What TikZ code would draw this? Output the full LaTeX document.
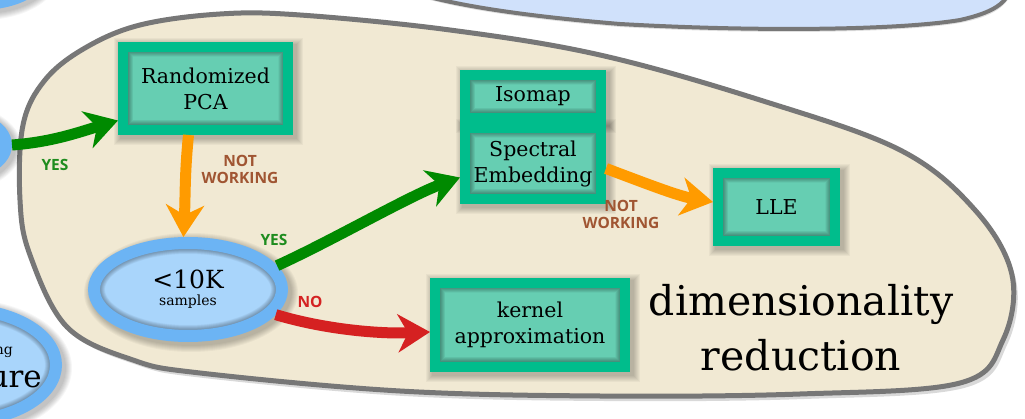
\documentclass[tikz,border=0pt]{standalone}
\usepackage{fontspec}
\setmainfont{DejaVu Serif}
\newfontfamily\labelfont{Open Sans}
\usetikzlibrary{arrows.meta,shapes.geometric}
\definecolor{tealB}{HTML}{00BD8C}
\definecolor{tealF}{HTML}{66CEB2}
\definecolor{blueB}{HTML}{6CB4F4}
\definecolor{blueF}{HTML}{A9D5FB}
\definecolor{topblue}{HTML}{D0E1FB}
\definecolor{beige}{HTML}{F1E9D3}
\definecolor{greyB}{HTML}{777777}
\definecolor{arrgreen}{HTML}{008A00}
\definecolor{arrorange}{HTML}{FF9B00}
\definecolor{arrred}{HTML}{D52121}
\definecolor{lblgreen}{HTML}{1E8C1E}
\definecolor{lblred}{HTML}{D42222}
\definecolor{lblbrown}{HTML}{A05532}
\pgfdeclarelayer{blob}
\pgfdeclarelayer{shad}
\pgfsetlayers{blob,shad,main}
\tikzset{
  mbox/.style={draw=tealB, fill=tealF, line width=10pt, inner sep=0pt, align=center,
    font=\fontsize{20.5}{26}\selectfont,
    path picture={\foreach \w in {11,12,...,20}{\draw[line width=\w pt, black, opacity=0.03] (path picture bounding box.south west) rectangle (path picture bounding box.north east);}}},
  mell/.style={shape=ellipse, draw=blueB, fill=blueF, line width=12pt, inner sep=0pt, align=center,
    path picture={\foreach \w in {13,14,...,22}{\draw[line width=\w pt, black, opacity=0.03] (path picture bounding box.center) ellipse [x radius=0.5*\pgfkeysvalueof{/pgf/minimum width}, y radius=0.5*\pgfkeysvalueof{/pgf/minimum height}];}}},
  arr/.style={line width=11pt, -{Stealth[length=32pt,width=38pt,inset=10pt]}},
  lbl/.style={font=\labelfont\bfseries\fontsize{15.5}{17}\selectfont, align=center, inner sep=0pt},
  shadowfill/.style={black, opacity=0.035},
}
\newcommand{\boxshade}[1]{\foreach \k in {1,...,7}{\fill[shadowfill] ([shift={(3-\k,3+\k)}]#1.south west) rectangle ([shift={(3+\k,3-\k)}]#1.north east);}}
\newcommand{\ellshade}[3]{\foreach \k in {1,...,7}{\fill[shadowfill] ([shift={(3,3)}]#1.center) ellipse [x radius=#2+\k, y radius=#3+\k];}}
\begin{document}
\begin{tikzpicture}[x=1pt,y=-1pt]
\clip (0,0) rectangle (1025,419);
\begin{pgfonlayer}{blob}
\fill[white] (0,0) rectangle (1025,419);
% top-right region
\fill[black,opacity=0.12] (383,-17) .. controls (420,3) and (500,17) .. (620,27) .. controls (760,35) and (900,33) .. (960,23) .. controls (1000,15) and (1010,3) .. (1015,-17) -- cycle;
\filldraw[fill=topblue, draw=greyB, line width=4pt] (380,-20) .. controls (420,0) and (500,14) .. (620,24) .. controls (760,32) and (900,30) .. (960,20) .. controls (1000,11) and (1010,0) .. (1012,-20) -- cycle;
% blob shadow
\fill[black,opacity=0.15,shift={(4,5)}] plot[smooth cycle, tension=0.6] coordinates {(20,200) (23,125) (45,80) (85,48) (140,25) (220,14) (300,15) (450,30) (600,55) (760,100) (900,150) (975,210) (1012,275) (1003,340) (960,383) (800,394) (600,396) (400,391) (200,373) (133,360) (67,327) (30,255)};
\filldraw[fill=beige, draw=greyB, line width=5pt] plot[smooth cycle, tension=0.6] coordinates {(20,200) (23,125) (45,80) (85,48) (140,25) (220,14) (300,15) (450,30) (600,55) (760,100) (900,150) (975,210) (1012,275) (1003,340) (960,383) (800,394) (600,396) (400,391) (200,373) (133,360) (67,327) (30,255)};
\end{pgfonlayer}
% partial outer nodes
\node[mell, minimum width=128pt, minimum height=68pt] (topl) at (-20,-30) {};
\node[mell, minimum width=132pt, minimum height=68pt] (left) at (-60,145) {};
\node[mell, minimum width=192pt, minimum height=112pt] (botl) at (-40,365) {};
\node[anchor=base east, inner sep=0pt, font=\fontsize{14}{16}\selectfont] (botlA) at (13,355) {ng};
\node[anchor=base east, inner sep=0pt, font=\fontsize{31}{34}\selectfont] (botlB) at (42,387) {ure};
% main nodes
\node[mbox, minimum width=165pt, minimum height=83pt] (pca) at (205.5,88.5) {Randomized\\PCA};
\node[mbox, minimum width=136pt, minimum height=43pt] (iso) at (533,96.5) {Isomap};
\node[mbox, minimum width=136pt, minimum height=71pt] (spec) at (533,163.5) {Spectral\\Embedding};
\node[mbox, minimum width=117pt, minimum height=68pt] (lle) at (776.5,207) {LLE};
\node[mbox, minimum width=190pt, minimum height=84pt] (kern) at (530,325) {kernel\\approximation};
\node[mell, minimum width=188pt, minimum height=93pt] (samp) at (188,289.5) {\fontsize{25}{28}\selectfont <10K\\[5pt]\fontsize{14}{16}\selectfont samples};
\node[align=center, inner sep=0pt, font=\fontsize{41}{55}\selectfont] (title) at (801,328) {dimensionality\\reduction};
% shadows
\begin{pgfonlayer}{shad}
\boxshade{pca}\boxshade{iso}\boxshade{spec}\boxshade{lle}\boxshade{kern}
\ellshade{samp}{100}{52.5}
\ellshade{topl}{70}{40}
\ellshade{left}{72}{40}
\ellshade{botl}{102}{62}
\end{pgfonlayer}
% arrows
\draw[arr, arrgreen] (left.east) .. controls +(40,-3) and +(-40,12) .. ([yshift=-32pt]pca.west);
\draw[arr, arrorange] ([xshift=-17pt]pca.south) .. controls +(-4,40) and +(2,-40) .. (samp.95);
\draw[arr, arrgreen] (samp.15) .. controls +(55,-25) and +(-50,18) .. ([yshift=-14pt]spec.west);
\draw[arr, arrred] (samp.-16) .. controls +(50,15) and +(-50,2) .. ([yshift=-7pt]kern.west);
\draw[arr, arrorange] ([yshift=-5pt]spec.east) .. controls +(40,15) and +(-35,-6) .. ([yshift=5pt]lle.west);
% labels
\node[lbl, lblgreen] (yes1) at (55,165) {YES};
\node[lbl, lblbrown] (nw1) at (240,169) {NOT\\WORKING};
\node[lbl, lblgreen] (yes2) at (274,240) {YES};
\node[lbl, lblred] (no) at (310,302) {NO};
\node[lbl, lblbrown] (nw2) at (621,214) {NOT\\WORKING};
\end{tikzpicture}
\end{document}
